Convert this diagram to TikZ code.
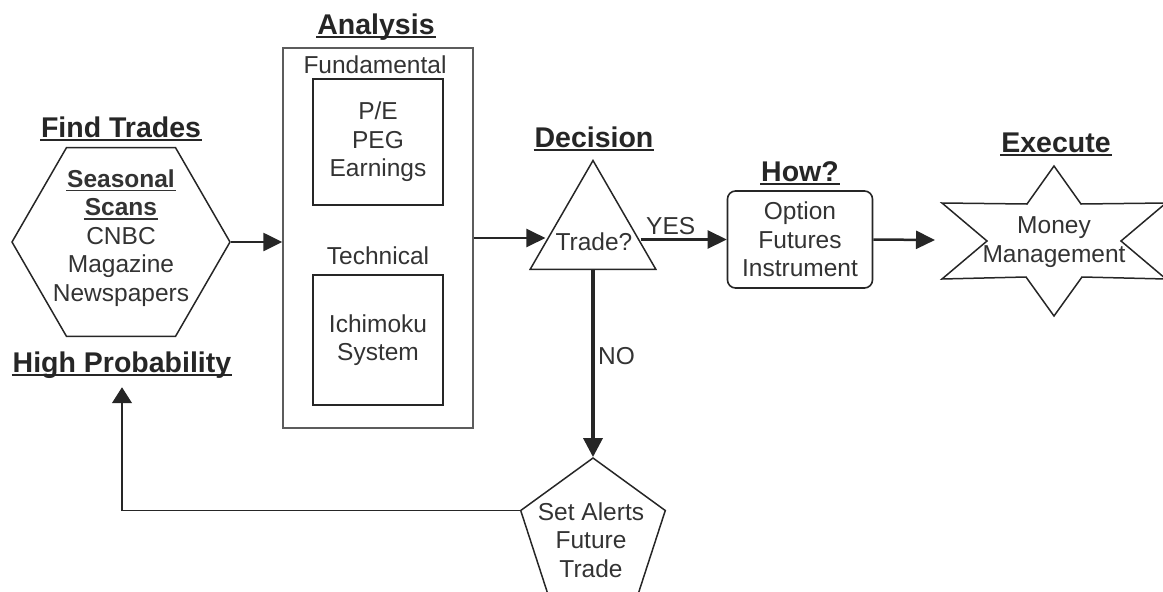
\documentclass[tikz,border=0pt]{standalone}
\usepackage{fontspec}
\setmainfont{Liberation Sans}
\usetikzlibrary{shapes.geometric, arrows.meta, positioning, calc}

\definecolor{ink}{HTML}{262626}
\definecolor{txt}{HTML}{333333}
\newcommand{\ulhead}[1]{\setbox0\hbox{#1}\rlap{\hskip-1pt\rule[-4pt]{\dimexpr\wd0+2pt\relax}{1.6pt}}\box0}

\begin{document}
\begin{tikzpicture}[
    x=1pt, y=-1pt,
    every node/.style={text=txt},
    heading/.style={font=\fontsize{28.5}{32}\selectfont\bfseries, anchor=base, inner sep=0pt, text=ink},
    body/.style={font=\fontsize{24.5}{28.5}\selectfont, align=center},
    frame/.style={rectangle, draw=ink!75, line width=1.4pt, inner sep=0pt},
    inbox/.style={rectangle, draw=ink, line width=1.8pt, body},
    roundbox/.style={rectangle, draw=ink, line width=1.6pt, rounded corners=8pt, body},
    hexa/.style={regular polygon, regular polygon sides=6, minimum size=218pt, draw=ink, line width=1.5pt, inner sep=0pt},
    tri/.style={regular polygon, regular polygon sides=3, minimum size=145pt, draw=ink, line width=1.5pt, inner sep=0pt},
    penta/.style={regular polygon, regular polygon sides=5, minimum size=152pt, draw=ink, line width=1.5pt, inner sep=0pt},
    starline/.style={draw=ink, line width=1.5pt, line join=miter},
    arrow/.style={-{Triangle[length=19pt, width=18pt]}, draw=ink, line width=2.5pt},
    noarrow/.style={-{Triangle[length=19pt, width=19pt]}, draw=ink, line width=3.5pt},
    thinarrow/.style={-{Triangle[length=16pt, width=20pt]}, draw=ink, line width=1.3pt},
]
\useasboundingbox (0,0) rectangle (1163,592);

% find trades
\node[heading] (findtr) at (121,137) {\ulhead{Find Trades}};
\node[hexa] (scans) at (121,242) {};
\node[body] (scanstxt) at (121,238) {\ulhead{\textbf{Seasonal}}\\\ulhead{\textbf{Scans}}\\CNBC\\Magazine\\Newspapers};
\node[heading] (highprob) at (122,372) {\ulhead{High Probability}};

% analysis
\node[heading] (analhead) at (376,34) {\ulhead{Analysis}};
\node[frame, minimum width=190pt, minimum height=380pt] (analysis) at (378,238) {};
\node[body] (fundlbl) at (375,65) {Fundamental};
\node[inbox, minimum width=130pt, minimum height=126pt] (fund) at (378,142) {P/E\\PEG\\Earnings};
\node[body] (techlbl) at (378,256) {Technical};
\node[inbox, minimum width=130pt, minimum height=130pt] (tech) at (378,340) {Ichimoku\\System};

% decision
\node[heading] (dechead) at (594,147) {\ulhead{Decision}};
\node[tri] (trade) at (593,233) {};
\node[body] (tradetxt) at (594,242) {Trade?};

% how
\node[heading] (howhead) at (800,181) {\ulhead{How?}};
\node[roundbox, minimum width=145pt, minimum height=97pt] (how) at (800,239.5) {Option\\Futures\\Instrument};

% execute
\node[heading] (exehead) at (1056,152) {\ulhead{Execute}};
\node[body] (money) at (1054,242) {Money\\Management};
\draw[starline, shift={(money.center)}] (0,-76) -- (27,-38) -- (112,-39) -- (67,-1) -- (112,37) -- (28,35)
    -- (0,74) -- (-28,35) -- (-112,37) -- (-67,-1) -- (-112,-39) -- (-27,-38) -- cycle;
\coordinate (execin) at ($(money.center)+(-119,-2)$);

% alerts
\node[penta] (alert) at (593,534) {};
\node[body] (alerttxt) at (591,540) {Set Alerts\\Future\\Trade};

% connectors
\draw[arrow] (scans.east) -- (scans.east -| analysis.west);
\draw[arrow] (analysis.east) -- (analysis.east -| trade.190);
\draw[arrow] (trade.350 |- how.west) -- node[body, above, pos=0.35] (yes) {YES} (how.west);
\draw[arrow] (how.east) -- (execin);
\draw[noarrow] (trade.south) -- node[body, right, pos=0.46] (no) {NO} (alert.north);
\draw[thinarrow] (alert.corner 2) -| ([yshift=-9pt]highprob.south);

\end{tikzpicture}
\end{document}
